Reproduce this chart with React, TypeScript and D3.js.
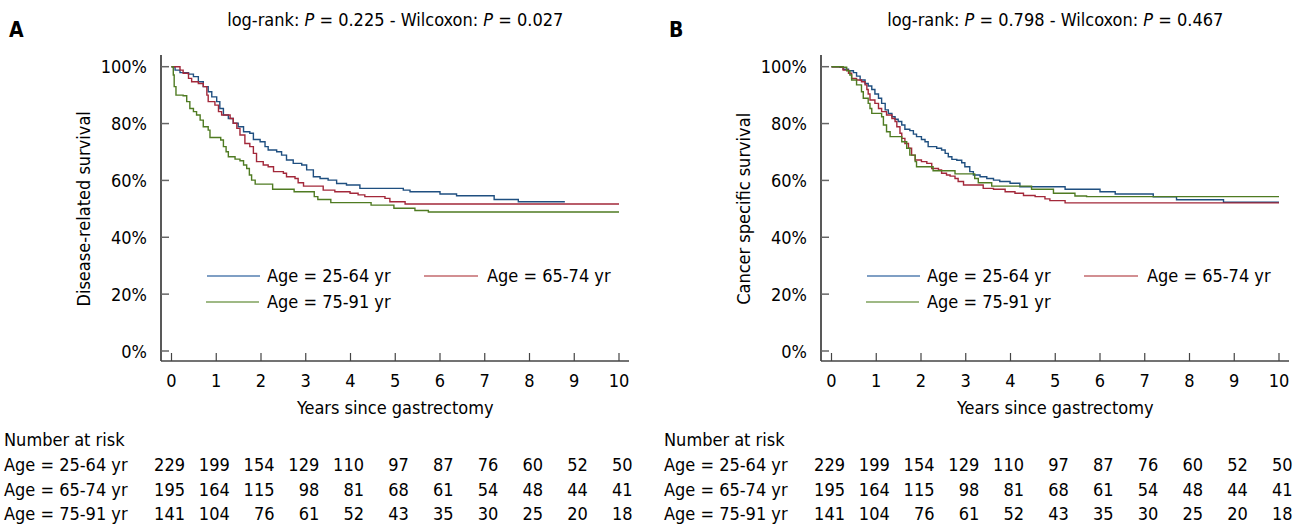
import React from 'react';
import * as d3 from 'd3';

// ---------- data ----------
const years = [0, 1, 2, 3, 4, 5, 6, 7, 8, 9, 10];
const pctTicks = [0, 20, 40, 60, 80, 100];
const groups = ['Age = 25-64 yr', 'Age = 65-74 yr', 'Age = 75-91 yr'];

// number at risk (same in both panels)
const riskYoung = [229, 199, 154, 129, 110, 97, 87, 76, 60, 52, 50];
const riskMid = [195, 164, 115, 98, 81, 68, 61, 54, 48, 44, 41];
const riskOld = [141, 104, 76, 61, 52, 43, 35, 30, 25, 20, 18];

// panel A: disease-related survival, [years, %]
const drsYoung = [[0,100],[0.08,98.8],[0.19,97.9],[0.38,97.4],[0.49,96.5],[0.6,94.7],[0.71,93],[0.82,91.2],[0.9,89.4],[1.01,87.7],[1.08,85.3],[1.16,83],[1.27,81.8],[1.38,80.1],[1.49,78.9],[1.61,77.1],[1.75,76.6],[1.83,74.4],[1.98,73.6],[2.09,71.9],[2.16,70.7],[2.35,70.1],[2.46,68.9],[2.57,67.2],[2.72,66],[2.91,65.4],[3.02,63.7],[3.17,61.3],[3.32,60.7],[3.5,60.1],[3.69,58.9],[3.91,58.4],[4.21,57.2],[5.18,56.6],[5.33,56],[6,55.2],[6.37,54.6],[7.21,53.3],[7.75,52.5],[8.79,52.5]];
const drsMid = [[0,100],[0.19,98.8],[0.26,97.7],[0.38,95.9],[0.45,94.7],[0.6,94.1],[0.71,93],[0.79,90],[0.82,87.7],[0.97,86.5],[1.05,84.2],[1.12,83],[1.31,81.8],[1.38,80.1],[1.46,78.3],[1.53,76],[1.64,73],[1.75,71.9],[1.83,69.5],[1.9,66.6],[2.05,65.4],[2.16,64.8],[2.28,63.1],[2.5,62.5],[2.57,61.3],[2.76,60.7],[2.83,59.2],[2.95,58],[3.39,56.6],[3.65,56],[3.99,55.5],[4.17,54.9],[4.32,54.3],[4.77,53.7],[4.88,52.5],[5.22,51.7],[10,51.7]];
const drsOld = [[0,100],[0.04,97.1],[0.06,93],[0.1,90],[0.26,89.8],[0.34,87.7],[0.41,85.3],[0.49,84.2],[0.56,83],[0.64,81.2],[0.71,78.9],[0.82,77.7],[0.86,75.1],[1.1,74.2],[1.16,71.9],[1.22,70.1],[1.27,68.3],[1.42,67.5],[1.53,66.9],[1.61,65.4],[1.68,64.2],[1.74,61.9],[1.79,60.1],[1.87,58.7],[2.26,56.9],[2.74,56],[3.19,54.3],[3.27,53.3],[3.56,52.2],[4.46,51.3],[4.97,50.2],[5.44,49.4],[5.74,48.9],[10,48.9]];

// panel B: cancer specific survival, [years, %]
const cssYoung = [[0,100],[0.19,99.8],[0.26,99.1],[0.38,98.6],[0.49,97.9],[0.56,96.7],[0.64,95.3],[0.75,94.1],[0.82,93.2],[0.9,92],[0.97,90.4],[1.05,88.9],[1.12,87.1],[1.2,84.8],[1.27,83.6],[1.35,82.4],[1.42,81.5],[1.49,80.7],[1.57,79.5],[1.64,78],[1.75,77.5],[1.83,76.3],[1.9,75.4],[2.01,74.4],[2.09,73.6],[2.16,71.9],[2.35,71.3],[2.46,70.7],[2.54,69.5],[2.61,68.3],[2.69,67.4],[2.8,67.1],[2.91,66.2],[2.98,64.8],[3.09,63.1],[3.17,61.9],[3.32,61.3],[3.47,60.7],[3.62,60.1],[3.76,59.6],[3.99,59],[4.21,57.8],[5.22,56.9],[6,56],[6.34,55.2],[7.19,54.2],[7.71,53.2],[8.76,52.3],[10,52.3]];
const cssMid = [[0,100],[0.23,99.8],[0.26,98.8],[0.38,97.7],[0.45,95.9],[0.56,95.3],[0.67,94.7],[0.75,93.6],[0.79,92],[0.82,90.4],[0.86,88.3],[0.97,87.1],[1.05,85.3],[1.12,84.2],[1.23,83],[1.35,81.8],[1.42,80.7],[1.46,78.9],[1.53,76.6],[1.57,74.8],[1.64,73],[1.72,71.3],[1.79,68.9],[1.87,67.2],[2.01,66.6],[2.13,66],[2.24,64.2],[2.39,63.7],[2.46,62.5],[2.57,61.9],[2.65,61.5],[2.76,60.7],[2.83,59.6],[2.95,58.4],[3.39,57.2],[3.62,56.9],[3.88,56],[4.1,55.5],[4.29,54.7],[4.55,54.3],[4.77,53.5],[4.88,52.9],[5.22,52.1],[10,52.1]];
const cssOld = [[0,100],[0.26,99.8],[0.34,98.6],[0.41,97.1],[0.45,95.3],[0.56,93.6],[0.67,91.2],[0.71,88.9],[0.82,87.1],[0.86,85.3],[0.9,83.6],[1.12,82.4],[1.16,79.5],[1.23,77.1],[1.31,75.4],[1.57,73.6],[1.68,71.3],[1.75,68.9],[1.87,66.6],[1.9,64.8],[2.27,63.4],[2.76,62.3],[3.2,60.7],[3.28,59.2],[3.58,58],[4.47,56.9],[4.96,55.5],[5.44,54.5],[5.7,54.3],[10,54.3]];

const pvalsA = ['0.225', '0.027'];
const pvalsB = ['0.798', '0.467'];

// ---------- styling ----------
const W = 1293;
const H = 524;
const FONT = "'DejaVu Sans Condensed', 'DejaVu Sans', sans-serif";
const lineColors = ['#1f4f80', '#a3283a', '#4f7b22'];
const legendColors = ['#7f9fc4', '#d28f92', '#9fb985'];

function Panel({ dx, letter, pvals, ylabel, curves }) {
  const x = d3.scaleLinear().domain([0, 10]).range([171.5 + dx, 619 + dx]);
  const y = d3.scaleLinear().domain([0, 100]).range([351, 66.7]);
  const line = d3.line().x(d => x(d[0])).y(d => y(d[1])).curve(d3.curveStepAfter);
  const axX = 161 + dx;
  const axY = 361;
  const risks = [riskYoung, riskMid, riskOld];
  const midX = (x(0) + x(10)) / 2;

  return (
    <g fontFamily={FONT} fontSize={18} fill="#000">
      {/* letter + title */}
      <text x={dx + 9} y={37} fontWeight="bold" fontSize={21}>{letter}</text>
      <text x={midX} y={26} textAnchor="middle">
        log-rank: <tspan fontStyle="italic">P</tspan> = {pvals[0]} - Wilcoxon: <tspan fontStyle="italic">P</tspan> = {pvals[1]}
      </text>

      {/* axes */}
      <line x1={axX} x2={axX} y1={55} y2={axY} stroke="#222" strokeWidth={1.5} />
      <line x1={axX} x2={x(10) + 10} y1={axY} y2={axY} stroke="#444" strokeWidth={1.5} />
      {pctTicks.map(t => (
        <g key={'y' + t}>
          <line x1={axX} x2={axX + 8} y1={y(t)} y2={y(t)} stroke="#666" strokeWidth={1.5} />
          <text x={axX - 14} y={y(t)} textAnchor="end" dominantBaseline="central">{t}%</text>
        </g>
      ))}
      {years.map(t => (
        <g key={'x' + t}>
          <line x1={x(t)} x2={x(t)} y1={axY} y2={axY - 8} stroke="#444" strokeWidth={1.2} />
          <text x={x(t)} y={387} textAnchor="middle">{t}</text>
        </g>
      ))}
      <text x={midX} y={414} textAnchor="middle">Years since gastrectomy</text>
      <text transform={`translate(${dx + 83},${(y(0) + y(100)) / 2}) rotate(-90)`} textAnchor="middle" dominantBaseline="central">{ylabel}</text>

      {/* curves */}
      {curves.map((c, i) => (
        <path key={'c' + i} d={line(c)} fill="none" stroke={lineColors[i]} strokeWidth={1.4} />
      ))}

      {/* legend */}
      <line x1={dx + 207} x2={dx + 260} y1={276} y2={276} stroke={legendColors[0]} strokeWidth={2} />
      <text x={dx + 267} y={282}>{groups[0]}</text>
      <line x1={dx + 424} x2={dx + 478} y1={276} y2={276} stroke={legendColors[1]} strokeWidth={2} />
      <text x={dx + 487} y={282}>{groups[1]}</text>
      <line x1={dx + 206} x2={dx + 259} y1={302} y2={302} stroke={legendColors[2]} strokeWidth={2} />
      <text x={dx + 267} y={308}>{groups[2]}</text>

      {/* number at risk */}
      <text x={dx + 4} y={446}>Number at risk</text>
      {groups.map((g, r) => (
        <g key={'r' + r}>
          <text x={dx + 4} y={471 + r * 24.5}>{g}</text>
          {risks[r].map((n, k) => (
            <text key={k} x={x(years[k]) + 13.5} y={471 + r * 24.5} textAnchor="end">{n}</text>
          ))}
        </g>
      ))}
    </g>
  );
}

export default function App() {
  return (
    <svg width={W} height={H} viewBox={`0 0 ${W} ${H}`}
      style={{ position: 'absolute', left: 0, top: 0, background: '#fff' }}>
      <Panel dx={0} letter="A" pvals={pvalsA} ylabel="Disease-related survival" curves={[drsYoung, drsMid, drsOld]} />
      <Panel dx={660} letter="B" pvals={pvalsB} ylabel="Cancer specific survival" curves={[cssYoung, cssMid, cssOld]} />
    </svg>
  );
}
